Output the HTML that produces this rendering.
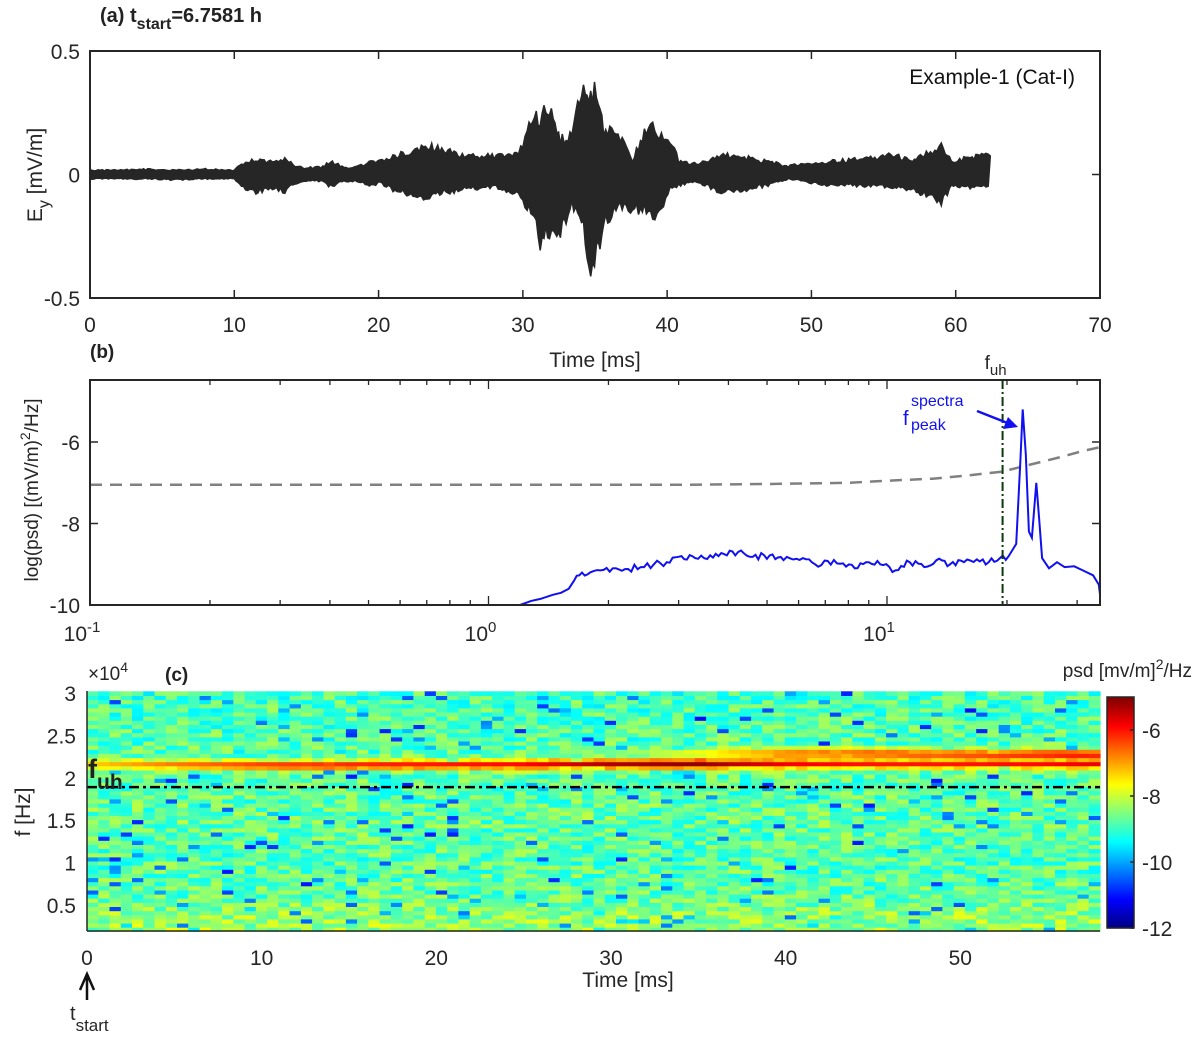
<!DOCTYPE html>
<html><head><meta charset="utf-8"><style>
body{margin:0;background:#fff}
svg{display:block;font-family:"Liberation Sans",Arial,sans-serif}
</style></head><body>
<svg id="fig" width="1200" height="1041" viewBox="0 0 1200 1041" xmlns="http://www.w3.org/2000/svg">
<g id="pa"></g>
<g id="pb"></g>
<g id="pc"></g>
</svg>
<script>
// ---------- Panel (a) data ----------
const waveT  = [0,2,4,6,8,10,10.5,11.5,12.5,13.5,14.2,15,16,16.8,17.6,18.5,19.5,20.1,21,22.1,23.4,24.1,25.8,27,28.3,29.7,30.3,30.8,31.2,31.6,32.1,32.6,33.4,34.2,34.7,35.1,35.6,36.6,37.6,38.7,39.3,40.2,40.8,41.9,43.6,45.5,47,48.4,50,51.2,53,55.5,57,58.1,59,59.7,61,61.8,62.4];
const waveUp = [0.02,0.02,0.025,0.02,0.025,0.02,0.05,0.07,0.06,0.075,0.04,0.03,0.035,0.06,0.03,0.035,0.06,0.06,0.08,0.11,0.134,0.12,0.095,0.09,0.085,0.09,0.2,0.31,0.24,0.345,0.25,0.17,0.18,0.46,0.35,0.43,0.2,0.2,0.07,0.23,0.2,0.17,0.065,0.05,0.09,0.08,0.06,0.04,0.05,0.06,0.07,0.09,0.07,0.1,0.145,0.06,0.08,0.09,0.09];
const waveLo = [-0.02,-0.02,-0.02,-0.025,-0.02,-0.02,-0.06,-0.08,-0.07,-0.08,-0.04,-0.03,-0.03,-0.06,-0.03,-0.03,-0.05,-0.04,-0.07,-0.09,-0.12,-0.09,-0.07,-0.065,-0.06,-0.09,-0.15,-0.2,-0.36,-0.25,-0.3,-0.28,-0.13,-0.26,-0.5,-0.37,-0.24,-0.14,-0.16,-0.17,-0.21,-0.07,-0.05,-0.03,-0.08,-0.07,-0.05,-0.02,-0.04,-0.05,-0.05,-0.06,-0.07,-0.1,-0.14,-0.05,-0.06,-0.06,-0.06];
const aXTicks = [0,10,20,30,40,50,60,70];
const aYTicks = [0.5,0,-0.5];
const aYLabels = ["0.5","0","-0.5"];

// ---------- Panel (b) data ----------
const specF = [1.12,1.2,1.28,1.35,1.45,1.52,1.59,1.64,1.69,1.8,1.91,2.05,2.2,2.41,2.6,2.8,3.05,3.3,3.6,3.9,4.23,4.6,5.08,5.5,6.15,6.6,7.1,7.76,8.3,9.0,9.78,10.5,11.4,12.4,13.3,14.4,15.6,16.8,18.0,19.2,20.2,21.1,21.6,21.9,22.3,22.7,23.1,23.7,24.1,24.5,25.5,26.7,27.9,29.5,31.0,32.9,34.0,34.5];
const specV = [-10.0,-10.0,-9.9,-9.85,-9.75,-9.7,-9.6,-9.4,-9.27,-9.2,-9.15,-9.1,-9.12,-9.07,-9.0,-8.95,-8.8,-8.85,-8.78,-8.75,-8.7,-8.82,-8.78,-8.9,-8.85,-9.0,-8.92,-8.98,-9.1,-8.95,-9.02,-9.15,-8.95,-9.07,-8.9,-9.0,-8.95,-8.88,-8.95,-8.85,-8.8,-8.5,-6.5,-5.2,-6.3,-8.2,-8.35,-7.0,-7.9,-8.85,-9.1,-8.95,-9.07,-9.05,-9.15,-9.27,-9.5,-10.0];
const bgF = [0.1,1,3,5,8,10,13,16,19.4,23,27,31,34.5];
const bgV = [-7.05,-7.05,-7.05,-7.03,-7.0,-6.95,-6.9,-6.82,-6.73,-6.55,-6.38,-6.22,-6.12];
const fuhKHz = 19.5;
const bXTicks = [-1,0,1];
const bYTicks = [-6,-8,-10];

// ---------- Panel (c) data ----------
const ridgeT   = [0,5,10,15,20,25,30,35,40,45,50,55,60];
const ridgeF1  = [2.16,2.16,2.15,2.15,2.16,2.16,2.17,2.17,2.17,2.17,2.17,2.17,2.17];
const ridgeL1  = [-7.3,-6.7,-6.2,-6.0,-6.0,-5.9,-5.3,-5.1,-5.8,-6.0,-6.0,-5.9,-5.6];
const ridgeF2  = [2.3,2.3,2.3,2.3,2.3,2.3,2.3,2.29,2.29,2.29,2.28,2.28,2.28];
const ridgeL2  = [-9.5,-9.3,-9.5,-9.5,-9.5,-9.2,-8.6,-7.6,-6.6,-6.4,-6.3,-6.0,-5.8];
const bgBandF  = [0.2,0.4,0.6,1.0,1.5,2.0,2.5,3.0];
const bgBandV  = [-8.3,-8.4,-8.7,-8.8,-8.7,-8.8,-8.8,-8.9];
const cXTicks = [0,10,20,30,40,50];
const cYTicks = [3,2.5,2,1.5,1,0.5];
const cYLabels = ["3","2.5","2","1.5","1","0.5"];
const cbTicks = [-6,-8,-10,-12];
const fuhC = 1.89;

const NS="http://www.w3.org/2000/svg";
function mk(parent,tag,attrs,text){const e=document.createElementNS(NS,tag);for(const k in attrs)e.setAttribute(k,attrs[k]);if(text!==undefined)e.textContent=text;parent.appendChild(e);return e;}
function interp(xs,ys,x){if(x<=xs[0])return ys[0];for(let i=1;i<xs.length;i++){if(x<=xs[i]){const f=(x-xs[i-1])/(xs[i]-xs[i-1]);return ys[i-1]+f*(ys[i]-ys[i-1]);}}return ys[ys.length-1];}
function tex(i,j){let h=(i*374761393+j*668265263)>>>0;h=((h^(h>>>13))*1274126177)>>>0;h=(h^(h>>>16))>>>0;return (h%10007)/10007;}

// ================= Panel A =================
(function(){
const g=document.getElementById('pa');
const L=90,R=1100,T=51,B=298;
const xs=t=>L+(t-0)/(70-0)*(R-L);
const ys=v=>T+(0.5-v)/1.0*(B-T);
const title=mk(g,'text',{x:100,y:22,'font-size':20,'font-weight':'bold',fill:'#222'});


title.innerHTML='(a) t<tspan dy="7" font-size="16">start</tspan><tspan dy="-7">=6.7581 h</tspan>';
let d='M'+xs(waveT[0])+','+ys(waveUp[0]);
for(let i=1;i<waveT.length;i++){
  const t0=waveT[i-1],t1=waveT[i];const n=Math.max(1,Math.round((t1-t0)*7));
  for(let k=1;k<=n;k++){const t=t0+(t1-t0)*k/n;const v=interp(waveT,waveUp,t)*(0.7+0.3*tex(i,k));d+=' L'+xs(t).toFixed(1)+','+ys(v).toFixed(1);}
}
for(let i=waveT.length-1;i>0;i--){
  const t1=waveT[i],t0=waveT[i-1];const n=Math.max(1,Math.round((t1-t0)*7));
  for(let k=n-1;k>=0;k--){const t=t0+(t1-t0)*k/n;const v=interp(waveT,waveLo,t)*(0.7+0.3*tex(k+31,i));d+=' L'+xs(t).toFixed(1)+','+ys(v).toFixed(1);}
}
d+='Z';
const wf=mk(g,'path',{d:d,fill:'#262626',stroke:'#262626','stroke-width':1.5});


const box=mk(g,'rect',{x:L,y:T,width:R-L,height:B-T,fill:'none',stroke:'#262626','stroke-width':2});


aXTicks.forEach(t=>{
  const x=xs(t);
  mk(g,'line',{x1:x,y1:B,x2:x,y2:B-8,stroke:'#262626','stroke-width':1.5});
  mk(g,'line',{x1:x,y1:T,x2:x,y2:T+8,stroke:'#262626','stroke-width':1.5});
  const tl=mk(g,'text',{x:x,y:B+34,'font-size':21,'text-anchor':'middle',fill:'#262626'},String(t));
  
  
});
aYTicks.forEach((v,i)=>{
  const y=ys(v);
  mk(g,'line',{x1:L,y1:y,x2:L+8,y2:y,stroke:'#262626','stroke-width':1.5});
  mk(g,'line',{x1:R,y1:y,x2:R-8,y2:y,stroke:'#262626','stroke-width':1.5});
  const tl=mk(g,'text',{x:L-10,y:y+8,'font-size':21,'text-anchor':'end',fill:'#262626'},aYLabels[i]);
  
  
});
const xt=mk(g,'text',{x:595,y:367,'font-size':21,'text-anchor':'middle',fill:'#262626'},'Time [ms]');


const yt=mk(g,'text',{transform:'translate(42,175) rotate(-90)','font-size':21,'text-anchor':'middle',fill:'#262626'});


yt.innerHTML='E<tspan dy="7" font-size="16">y</tspan><tspan dy="-7"> [mV/m]</tspan>';
const lg=mk(g,'text',{x:1075,y:84,'font-size':21,'text-anchor':'end',fill:'#111'},'Example-1 (Cat-I)');


})();

// ================= Panel B =================
(function(){
const g=document.getElementById('pb');
const L=90,R=1100,T=380,B=605;
const dec=398.5;
const xs=f=>L+(Math.log10(f)+1)*dec;
const ys=v=>B-(v+10)*(B-442)/4;
const lb=mk(g,'text',{x:90,y:358,'font-size':19,'font-weight':'bold',fill:'#222'},'(b)');


mk(g,'clipPath',{id:'cb'}).appendChild(document.createElementNS(NS,'rect'));
const cr=document.querySelector('#cb rect');cr.setAttribute('x',L);cr.setAttribute('y',T);cr.setAttribute('width',R-L);cr.setAttribute('height',B-T+2);
let d='';bgF.forEach((f,i)=>{d+=(i?'L':'M')+xs(f).toFixed(1)+','+ys(bgV[i]).toFixed(1);});
const bg=mk(g,'path',{d:d,fill:'none',stroke:'#808080','stroke-width':2.5,'stroke-dasharray':'12,8','clip-path':'url(#cb)'});


// spectrum with fine jitter between read points
d='';
for(let i=0;i<specF.length;i++){
  const x=xs(specF[i]),y=ys(specV[i]);
  d+=(i?'L':'M')+x.toFixed(1)+','+y.toFixed(1);
  if(i<specF.length-1 && specF[i]>1.6 && specF[i+1]<21 ){
    const x2=xs(specF[i+1]),y2=ys(specV[i+1]);const n=Math.max(1,Math.round((x2-x)/3));
    for(let k=1;k<n;k++){const xx=x+(x2-x)*k/n,yy=y+(y2-y)*k/n+(tex(i,k)-0.5)*7;d+='L'+xx.toFixed(1)+','+yy.toFixed(1);}
  }
}
const sp=mk(g,'path',{d:d,fill:'none',stroke:'#1010f0','stroke-width':2,'clip-path':'url(#cb)'});


const fx=xs(fuhKHz);
const fl=mk(g,'line',{x1:fx,y1:T,x2:fx,y2:B,stroke:'#0a3a0a','stroke-width':2,'stroke-dasharray':'9,3,2,3'});


const ft=mk(g,'text',{x:fx-18,y:369,'font-size':19,fill:'#262626'});


ft.innerHTML='f<tspan dy="6" font-size="15">uh</tspan>';
const pk=mk(g,'text',{x:903,y:425,'font-size':20,fill:'#1010f0'});


pk.innerHTML='f<tspan x="911" y="406" font-size="16">spectra</tspan><tspan x="911" y="430" font-size="16">peak</tspan>';
const ar=mk(g,'path',{d:'M977,411 L1010,424',stroke:'#1010f0','stroke-width':2.5,fill:'none'});


mk(g,'path',{d:'M1018,427 L1003,429 L1008,417 Z',fill:'#1010f0'});
const box=mk(g,'rect',{x:L,y:T,width:R-L,height:B-T,fill:'none',stroke:'#262626','stroke-width':2});


for(let e=-1;e<=1;e++){for(let m=1;m<=9;m++){const f=m*Math.pow(10,e);const x=xs(f);if(x>R)continue;const len=m===1?9:5;
 mk(g,'line',{x1:x,y1:B,x2:x,y2:B-len,stroke:'#262626','stroke-width':1.3});
 mk(g,'line',{x1:x,y1:T,x2:x,y2:T+len,stroke:'#262626','stroke-width':1.3});}}
bXTicks.forEach(e=>{const x=xs(Math.pow(10,e));
 const tl=mk(g,'text',{x:x-8,y:641,'font-size':21,'text-anchor':'middle',fill:'#262626'});
 
 
 tl.innerHTML='10<tspan dy="-9" font-size="15">'+e+'</tspan>';});
bYTicks.forEach(v=>{const y=ys(v);
 mk(g,'line',{x1:L,y1:y,x2:L+8,y2:y,stroke:'#262626','stroke-width':1.5});
 mk(g,'line',{x1:R,y1:y,x2:R-8,y2:y,stroke:'#262626','stroke-width':1.5});
 const tl=mk(g,'text',{x:L-10,y:y+8,'font-size':21,'text-anchor':'end',fill:'#262626'},String(v));
 
 });
const yt=mk(g,'text',{transform:'translate(38,490) rotate(-90)','font-size':19,'text-anchor':'middle',fill:'#262626'});


yt.innerHTML='log(psd) [(mV/m)<tspan dy="-8" font-size="14">2</tspan><tspan dy="8">/Hz]</tspan>';
})();

// ================= Panel C =================
function jet(v){const c=x=>Math.max(0,Math.min(1,x));const r=c(1.5-Math.abs(4*v-3)),gg=c(1.5-Math.abs(4*v-2)),b=c(1.5-Math.abs(4*v-1));return 'rgb('+Math.round(r*255)+','+Math.round(gg*255)+','+Math.round(b*255)+')';}
(function(){
const g=document.getElementById('pc');
const L=87,R=1100,T=691,B=931;
const tMax=58;
const xs=t=>L+t/tMax*(R-L);
const ys=f=>693+(3-f)*84.8;
const vmin=-12,vmax=-5;
const nT=90,nF=58;
const fBot=0.19,fTop=3.02;
const hm=mk(g,'g',{});


for(let i=0;i<nT;i++){
 const t0=i*tMax/nT,t1=(i+1)*tMax/nT,tc=(t0+t1)/2;
 const f1=interp(ridgeT,ridgeF1,tc),l1=interp(ridgeT,ridgeL1,tc),f2=interp(ridgeT,ridgeF2,tc),l2=interp(ridgeT,ridgeL2,tc);
 for(let j=0;j<nF;j++){
  const fa=fBot+j*(fTop-fBot)/nF,fb=fBot+(j+1)*(fTop-fBot)/nF,fc=(fa+fb)/2;
  const n=tex(i,j),n2=tex(j+101,i+57);
  let v=interp(bgBandF,bgBandV,fc)+(n-0.5)*1.3;
  if(n2<0.05)v-=1.6;
  const r1=Math.exp(-Math.pow((fc-f1)/0.06,2));const r2=Math.exp(-Math.pow((fc-f2)/0.06,2));
  v=Math.max(v, v*(1-r1)+l1*r1, v*(1-r2)+l2*r2);
  mk(hm,'rect',{x:xs(t0).toFixed(1),y:ys(fb).toFixed(1),width:(xs(t1)-xs(t0)+0.6).toFixed(1),height:(ys(fa)-ys(fb)+0.6).toFixed(1),fill:jet((v-vmin)/(vmax-vmin))});
 }
}
const fl=mk(g,'line',{x1:L,y1:ys(fuhC),x2:R,y2:ys(fuhC),stroke:'#000','stroke-width':2.5,'stroke-dasharray':'10,4,3,4'});


const fu=mk(g,'text',{x:88,y:778,'font-size':27,'font-weight':'bold',fill:'#222'});


fu.innerHTML='f<tspan dy="11" font-size="21">uh</tspan>';
mk(g,'line',{x1:L,y1:T,x2:L,y2:B,stroke:'#262626','stroke-width':1.5});
mk(g,'line',{x1:L,y1:B,x2:R,y2:B,stroke:'#262626','stroke-width':1.5});
cXTicks.forEach(t=>{const x=xs(t);
 const tl=mk(g,'text',{x:x,y:965,'font-size':21,'text-anchor':'middle',fill:'#262626'},String(t));
 
 });
cYTicks.forEach((v,i)=>{const y=ys(v);
 const tl=mk(g,'text',{x:76,y:y+8,'font-size':21,'text-anchor':'end',fill:'#262626'},cYLabels[i]);
 
 });
const xt=mk(g,'text',{x:628,y:987,'font-size':21,'text-anchor':'middle',fill:'#262626'},'Time [ms]');


const yt=mk(g,'text',{transform:'translate(30,812) rotate(-90)','font-size':21,'text-anchor':'middle',fill:'#262626'},'f [Hz]');


const ex=mk(g,'text',{x:88,y:680,'font-size':19,fill:'#262626'});


ex.innerHTML='×10<tspan dy="-8" font-size="14">4</tspan>';
const lc=mk(g,'text',{x:165,y:681,'font-size':19,'font-weight':'bold',fill:'#222'},'(c)');


const ta=mk(g,'path',{d:'M87,1000 L87,976 M80,990 L87,974 L94,990',stroke:'#111','stroke-width':2.5,fill:'none'});


const tt=mk(g,'text',{x:70,y:1020,'font-size':20,fill:'#262626'});


tt.innerHTML='t<tspan dy="11" font-size="17">start</tspan>';
const cbL=1107,cbR=1134,cbT=697,cbB=928;
const cy=v=>cbB-(v-vmin)/(vmax-vmin)*(cbB-cbT);
const cb=mk(g,'g',{});


for(let k=0;k<115;k++){const v0=vmin+k*(vmax-vmin)/115,v1=vmin+(k+1)*(vmax-vmin)/115;
 mk(cb,'rect',{x:cbL,y:cy(v1).toFixed(1),width:cbR-cbL,height:(cy(v0)-cy(v1)+0.6).toFixed(1),fill:jet(((v0+v1)/2-vmin)/(vmax-vmin))});}
mk(cb,'rect',{x:cbL,y:cbT,width:cbR-cbL,height:cbB-cbT,fill:'none',stroke:'#262626','stroke-width':1.5});
cbTicks.forEach(v=>{const y=cy(v);
 mk(cb,'line',{x1:cbR-4,y1:y,x2:cbR,y2:y,stroke:'#262626','stroke-width':1.5});
 const tl=mk(cb,'text',{x:cbR+8,y:y+8,'font-size':21,fill:'#262626'},String(v));
 
 });
const ct=mk(g,'text',{x:1192,y:677,'font-size':19,'text-anchor':'end',fill:'#262626'});


ct.innerHTML='psd [mv/m]<tspan dy="-8" font-size="14">2</tspan><tspan dy="8">/Hz</tspan>';
})();
</script>
</body></html>
